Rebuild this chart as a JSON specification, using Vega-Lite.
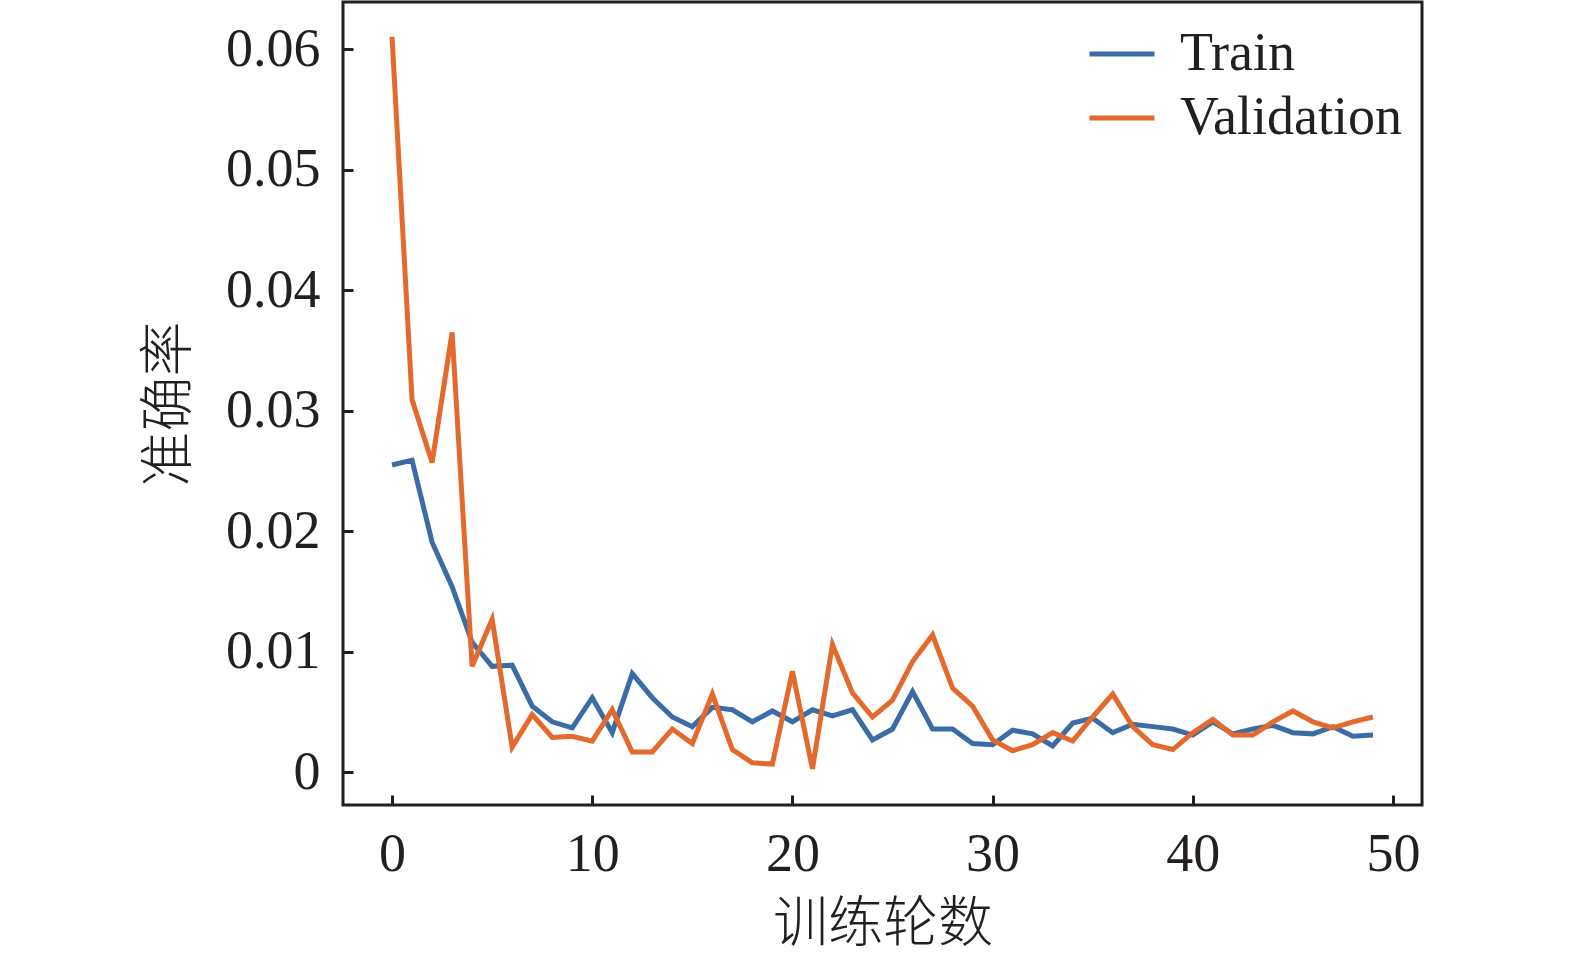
{
  "$schema": "https://vega.github.io/schema/vega-lite/v6.json",
  "width": 1079,
  "height": 803,
  "autosize": "none",
  "padding": {"left": 343, "top": 2, "right": 153, "bottom": 154},
  "background": "white",
  "config": {
    "font": "Liberation Serif",
    "view": {"stroke": "#231f20", "strokeWidth": 3},
    "axis": {
      "domain": false,
      "grid": false,
      "tickColor": "#231f20",
      "tickWidth": 3,
      "tickSize": -10,
      "labelFont": "Liberation Serif",
      "labelFontSize": 54,
      "labelColor": "#231f20",
      "titleFont": "Liberation Serif, Noto Sans CJK SC",
      "titleFontSize": 55,
      "titleFontWeight": 300,
      "titleColor": "#231f20"
    }
  },
  "data": {
    "values": [
      {"epoch": 0, "series": "Train", "value": 0.0255},
      {"epoch": 1, "series": "Train", "value": 0.0259},
      {"epoch": 2, "series": "Train", "value": 0.0191},
      {"epoch": 3, "series": "Train", "value": 0.0154},
      {"epoch": 4, "series": "Train", "value": 0.0108},
      {"epoch": 5, "series": "Train", "value": 0.0088},
      {"epoch": 6, "series": "Train", "value": 0.0089},
      {"epoch": 7, "series": "Train", "value": 0.0055},
      {"epoch": 8, "series": "Train", "value": 0.0042},
      {"epoch": 9, "series": "Train", "value": 0.0037},
      {"epoch": 10, "series": "Train", "value": 0.0062},
      {"epoch": 11, "series": "Train", "value": 0.0033},
      {"epoch": 12, "series": "Train", "value": 0.0082},
      {"epoch": 13, "series": "Train", "value": 0.0062},
      {"epoch": 14, "series": "Train", "value": 0.0046},
      {"epoch": 15, "series": "Train", "value": 0.0038},
      {"epoch": 16, "series": "Train", "value": 0.0054},
      {"epoch": 17, "series": "Train", "value": 0.0052},
      {"epoch": 18, "series": "Train", "value": 0.0042},
      {"epoch": 19, "series": "Train", "value": 0.0051},
      {"epoch": 20, "series": "Train", "value": 0.0042},
      {"epoch": 21, "series": "Train", "value": 0.0052},
      {"epoch": 22, "series": "Train", "value": 0.0047},
      {"epoch": 23, "series": "Train", "value": 0.0052},
      {"epoch": 24, "series": "Train", "value": 0.0027},
      {"epoch": 25, "series": "Train", "value": 0.0036},
      {"epoch": 26, "series": "Train", "value": 0.0067},
      {"epoch": 27, "series": "Train", "value": 0.0036},
      {"epoch": 28, "series": "Train", "value": 0.0036},
      {"epoch": 29, "series": "Train", "value": 0.0024},
      {"epoch": 30, "series": "Train", "value": 0.0023},
      {"epoch": 31, "series": "Train", "value": 0.0035},
      {"epoch": 32, "series": "Train", "value": 0.0032},
      {"epoch": 33, "series": "Train", "value": 0.0022},
      {"epoch": 34, "series": "Train", "value": 0.0041},
      {"epoch": 35, "series": "Train", "value": 0.0045},
      {"epoch": 36, "series": "Train", "value": 0.0033},
      {"epoch": 37, "series": "Train", "value": 0.004},
      {"epoch": 38, "series": "Train", "value": 0.0038},
      {"epoch": 39, "series": "Train", "value": 0.0036},
      {"epoch": 40, "series": "Train", "value": 0.0031},
      {"epoch": 41, "series": "Train", "value": 0.0042},
      {"epoch": 42, "series": "Train", "value": 0.0032},
      {"epoch": 43, "series": "Train", "value": 0.0036},
      {"epoch": 44, "series": "Train", "value": 0.0039},
      {"epoch": 45, "series": "Train", "value": 0.0033},
      {"epoch": 46, "series": "Train", "value": 0.0032},
      {"epoch": 47, "series": "Train", "value": 0.0038},
      {"epoch": 48, "series": "Train", "value": 0.003},
      {"epoch": 49, "series": "Train", "value": 0.0031},
      {"epoch": 0, "series": "Validation", "value": 0.061},
      {"epoch": 1, "series": "Validation", "value": 0.0309},
      {"epoch": 2, "series": "Validation", "value": 0.0257},
      {"epoch": 3, "series": "Validation", "value": 0.0365},
      {"epoch": 4, "series": "Validation", "value": 0.0088},
      {"epoch": 5, "series": "Validation", "value": 0.0127},
      {"epoch": 6, "series": "Validation", "value": 0.0021},
      {"epoch": 7, "series": "Validation", "value": 0.0048},
      {"epoch": 8, "series": "Validation", "value": 0.0029},
      {"epoch": 9, "series": "Validation", "value": 0.003},
      {"epoch": 10, "series": "Validation", "value": 0.0026},
      {"epoch": 11, "series": "Validation", "value": 0.0052},
      {"epoch": 12, "series": "Validation", "value": 0.0017},
      {"epoch": 13, "series": "Validation", "value": 0.0017},
      {"epoch": 14, "series": "Validation", "value": 0.0036},
      {"epoch": 15, "series": "Validation", "value": 0.0024},
      {"epoch": 16, "series": "Validation", "value": 0.0065},
      {"epoch": 17, "series": "Validation", "value": 0.0019},
      {"epoch": 18, "series": "Validation", "value": 0.0008},
      {"epoch": 19, "series": "Validation", "value": 0.0007},
      {"epoch": 20, "series": "Validation", "value": 0.0084},
      {"epoch": 21, "series": "Validation", "value": 0.0003},
      {"epoch": 22, "series": "Validation", "value": 0.0106},
      {"epoch": 23, "series": "Validation", "value": 0.0066},
      {"epoch": 24, "series": "Validation", "value": 0.0046},
      {"epoch": 25, "series": "Validation", "value": 0.006},
      {"epoch": 26, "series": "Validation", "value": 0.0092},
      {"epoch": 27, "series": "Validation", "value": 0.0114},
      {"epoch": 28, "series": "Validation", "value": 0.007},
      {"epoch": 29, "series": "Validation", "value": 0.0055},
      {"epoch": 30, "series": "Validation", "value": 0.0027},
      {"epoch": 31, "series": "Validation", "value": 0.0018},
      {"epoch": 32, "series": "Validation", "value": 0.0023},
      {"epoch": 33, "series": "Validation", "value": 0.0033},
      {"epoch": 34, "series": "Validation", "value": 0.0026},
      {"epoch": 35, "series": "Validation", "value": 0.0046},
      {"epoch": 36, "series": "Validation", "value": 0.0065},
      {"epoch": 37, "series": "Validation", "value": 0.0038},
      {"epoch": 38, "series": "Validation", "value": 0.0023},
      {"epoch": 39, "series": "Validation", "value": 0.0019},
      {"epoch": 40, "series": "Validation", "value": 0.0033},
      {"epoch": 41, "series": "Validation", "value": 0.0044},
      {"epoch": 42, "series": "Validation", "value": 0.0031},
      {"epoch": 43, "series": "Validation", "value": 0.0031},
      {"epoch": 44, "series": "Validation", "value": 0.0042},
      {"epoch": 45, "series": "Validation", "value": 0.0051},
      {"epoch": 46, "series": "Validation", "value": 0.0042},
      {"epoch": 47, "series": "Validation", "value": 0.0037},
      {"epoch": 48, "series": "Validation", "value": 0.0042},
      {"epoch": 49, "series": "Validation", "value": 0.0046}
    ]
  },
  "mark": {"type": "line", "strokeWidth": 5, "strokeJoin": "miter", "clip": true},
  "encoding": {
    "x": {
      "field": "epoch",
      "type": "quantitative",
      "title": "训练轮数",
      "scale": {"domain": [-2.45, 51.45], "nice": false, "zero": false},
      "axis": {"values": [0, 10, 20, 30, 40, 50], "labelPadding": 32, "titlePadding": 16}
    },
    "y": {
      "field": "value",
      "type": "quantitative",
      "title": "准确率",
      "scale": {"domain": [-0.0027, 0.0639], "nice": false, "zero": false},
      "axis": {
        "values": [0, 0.01, 0.02, 0.03, 0.04, 0.05, 0.06],
        "labelExpr": "datum.value == 0 ? '0' : format(datum.value, '.2f')",
        "labelPadding": 33,
        "titlePadding": 28
      }
    },
    "color": {
      "field": "series",
      "type": "nominal",
      "scale": {"domain": ["Train", "Validation"], "range": ["#3a6ca6", "#e3692d"]},
      "legend": {
        "title": null,
        "orient": "none",
        "legendX": 744,
        "legendY": 17,
        "symbolType": "stroke",
        "symbolSize": 4225,
        "symbolStrokeWidth": 5,
        "labelFont": "Liberation Serif",
        "labelFontSize": 54,
        "labelColor": "#231f20",
        "labelOffset": 23,
        "labelLimit": 0,
        "rowPadding": 2,
        "padding": 0
      }
    }
  }
}
